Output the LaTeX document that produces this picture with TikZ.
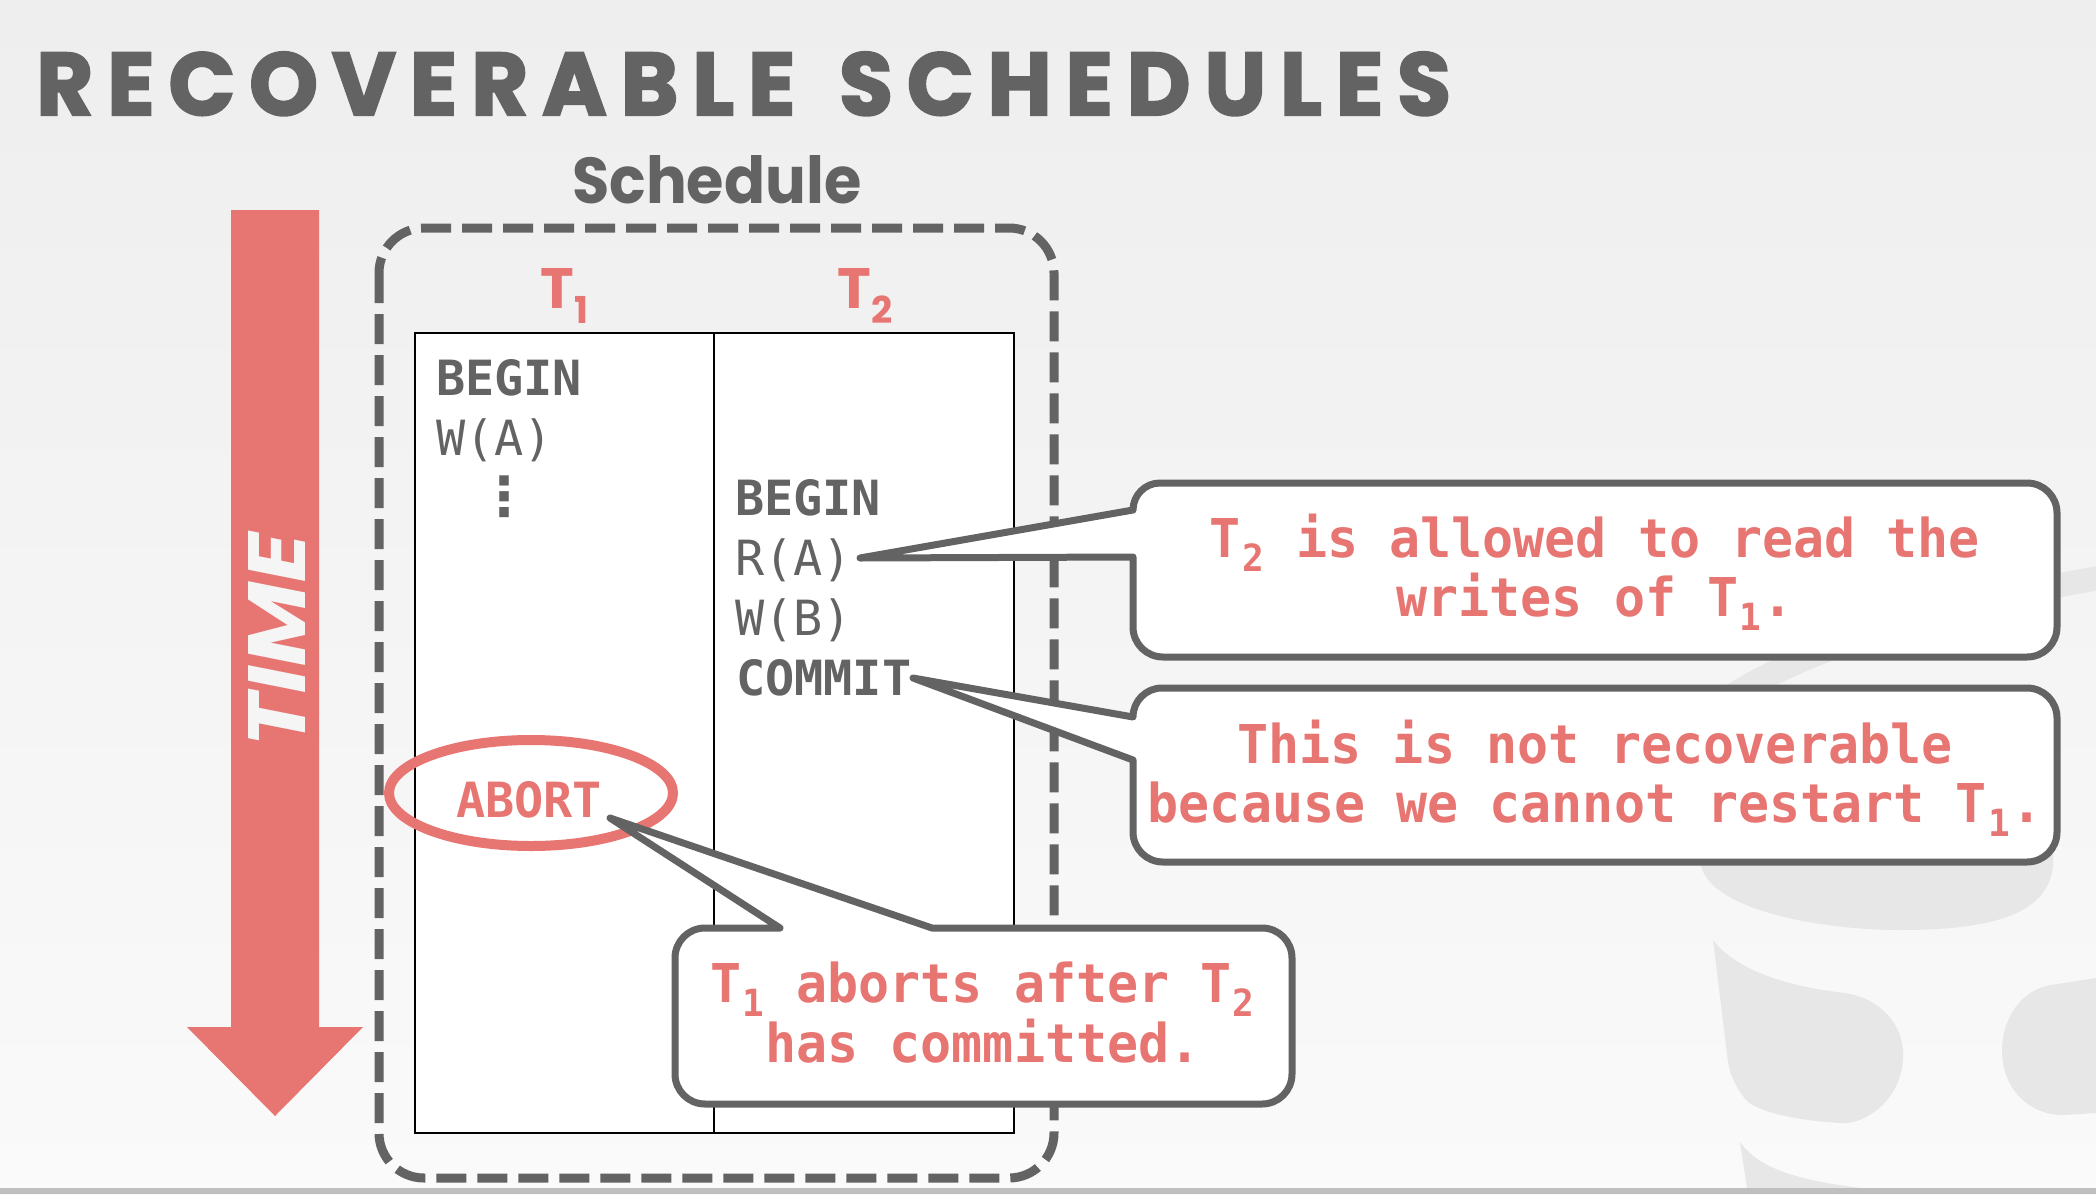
\documentclass[tikz,border=0pt]{standalone}
\usepackage{fontspec}
\usepackage{graphicx}
\newfontfamily\titlefont{Poppins}[LetterSpace=16,FakeBold=2.5]
\newfontfamily\labelfont{Poppins}
\newfontfamily\monofont{DejaVu Sans Mono}
\newfontfamily\callfont{DejaVu Sans Mono}[FakeStretch=0.965]
\newfontfamily\symfont{DejaVu Sans}
\definecolor{ink}{RGB}{99,99,99}
\definecolor{accent}{RGB}{231,117,113}
\definecolor{wmark}{RGB}{231,231,231}
\definecolor{bgtop}{RGB}{238,238,238}
\definecolor{bgbot}{RGB}{250,250,250}
% small lowered digit occupying part of a monospace cell
\newcommand\subdigit[1]{\makebox[0.45em][c]{\raisebox{-0.28em}{\scalebox{0.7}{#1}}}}
\tikzset{
  tbl/.style={font=\monofont\fontsize{48.5}{58}\selectfont, text=ink, inner sep=0pt, anchor=base west},
  tblbold/.style={tbl, font=\monofont\bfseries\fontsize{48.5}{58}\selectfont},
  calltext/.style={font=\callfont\bfseries\fontsize{53.5}{64}\selectfont, text=accent, inner sep=0pt, anchor=base},
  callout/.style={draw=ink, line width=7pt, fill=white, line join=round},
  colhead/.style={font=\labelfont\bfseries\fontsize{57}{57}\selectfont, text=accent, inner sep=0pt, anchor=base west},
}
\begin{document}
\begin{tikzpicture}[x=1pt,y=-1pt]
\useasboundingbox (0,0) rectangle (2096,1194);
% page background
\shade[top color=bgtop, bottom color=bgbot] (0,0) rectangle (2096,1194);
% faint logo in the lower right corner
\draw[wmark, line width=24pt] (1700,722) .. controls (1745,672) and (1900,612) .. (2110,576);
\fill[wmark] (1700,850) -- (1701,866) .. controls (1712,910) and (1820,930) .. (1900,930)
  .. controls (1990,930) and (2048,915) .. (2053,866) -- (2053,850) -- cycle;
\fill[wmark] (1713,940) .. controls (1740,975) and (1800,988) .. (1845,993)
  .. controls (1880,998) and (1905,1025) .. (1903,1058)
  .. controls (1902,1095) and (1870,1125) .. (1840,1123)
  .. controls (1790,1120) and (1750,1110) .. (1743,1096)
  .. controls (1735,1085) and (1730,1075) .. (1728,1062) -- cycle;
\fill[wmark] (1740,1142) .. controls (1760,1170) and (1800,1180) .. (1860,1188) -- (1747,1188) -- cycle;
\fill[wmark] (2096,978) -- (2051,985) .. controls (2020,990) and (2002,1020) .. (2002,1050)
  .. controls (2002,1090) and (2030,1115) .. (2063,1115) -- (2096,1113) -- cycle;
\fill[black!25] (0,1188) rectangle (2096,1194);

% title and caption
\node[anchor=base west, inner sep=0pt, text=ink] (title) at (36,115)
  {\resizebox{1414pt}{63pt}{\titlefont\bfseries RECOVERABLE\hspace{0.5em}SCHEDULES}};
\node[anchor=base west, inner sep=0pt, text=ink] (sched) at (572,203)
  {\resizebox{289pt}{48pt}{\labelfont\bfseries Schedule}};

% time arrow
\fill[accent] (231,210) -- (319,210) -- (319,1027) -- (363,1027) -- (275,1116)
  -- (187,1027) -- (231,1027) -- cycle;
\node[rotate=90, inner sep=0pt, text=white!96!black] (time) at (276.5,640)
  {\resizebox{214pt}{57pt}{\labelfont\bfseries\itshape TIME}};

% schedule frame and table
\draw[ink, line width=9pt, dash pattern=on 30pt off 11pt, rounded corners=45pt]
  (379,228) rectangle (1054,1178);
\draw[black, line width=2pt, fill=white] (415,333) rectangle (1014,1133);
\draw[black, line width=2pt] (714,333) -- (714,1133);

\node[colhead] (t1) at (540,308) {T\kern1pt\raisebox{-15pt}{\scalebox{0.65}{1}}};
\node[colhead] (t2) at (837,308) {T\kern1pt\raisebox{-15pt}{\scalebox{0.65}{2}}};

\node[tblbold] (b1) at (436,395) {BEGIN};
\node[tbl] (w1) at (436,455) {W(A)};
\node[font=\symfont\bfseries\fontsize{54}{54}\selectfont, text=ink, inner sep=0pt] (vd) at (504,497) {⋮};
\node[tblbold] (b2) at (735,515) {BEGIN};
\node[tbl] (r2) at (735,575) {R(A)};
\node[tbl] (w2) at (735,635) {W(B)};
\node[tblbold] (c2) at (736,695) {COMMIT};
\node[tblbold, text=accent, anchor=base] (ab) at (529,817) {ABORT};
\draw[accent, line width=10pt] (531,793) ellipse [x radius=142, y radius=53];

% pointer tips
\coordinate (tipR) at (860,558);
\coordinate (tipC) at (913,678);
\coordinate (tipA) at (610,818);

% callouts
\path[callout] (1133,510) -- (tipR) -- (1133,557) -- (1133,627)
  .. controls (1133,643.6) and (1146.4,657) .. (1163,657) -- (2027,657)
  .. controls (2043.6,657) and (2057,643.6) .. (2057,627) -- (2057,513)
  .. controls (2057,496.4) and (2043.6,483) .. (2027,483) -- (1160,483)
  .. controls (1145.1,483) and (1133,495.1) .. (1133,510) -- cycle;
\path[callout] (1133,717) -- (tipC) -- (1133,760) -- (1133,832)
  .. controls (1133,848.6) and (1146.4,862) .. (1163,862) -- (2027,862)
  .. controls (2043.6,862) and (2057,848.6) .. (2057,832) -- (2057,718)
  .. controls (2057,701.4) and (2043.6,688) .. (2027,688) -- (1162,688)
  .. controls (1146,688) and (1133,701) .. (1133,717) -- cycle;
\path[callout] (780,928) -- (tipA) -- (932,928) -- (1262,928)
  .. controls (1278.6,928) and (1292,941.4) .. (1292,958) -- (1292,1074)
  .. controls (1292,1090.6) and (1278.6,1104) .. (1262,1104) -- (705,1104)
  .. controls (688.4,1104) and (675,1090.6) .. (675,1074) -- (675,958)
  .. controls (675,941.4) and (688.4,928) .. (705,928) -- cycle;

\node[calltext] (n1a) at (1595,557) {T\subdigit{2} is allowed to read the};
\node[calltext] (n1b) at (1595,616) {writes of T\subdigit{1}.};
\node[calltext] (n2a) at (1595,763) {This is not recoverable};
\node[calltext] (n2b) at (1595,822) {because we cannot restart T\subdigit{1}.};
\node[calltext] (n3a) at (983,1002) {T\subdigit{1} aborts after T\subdigit{2}};
\node[calltext] (n3b) at (983,1062) {has committed.};
\end{tikzpicture}
\end{document}
